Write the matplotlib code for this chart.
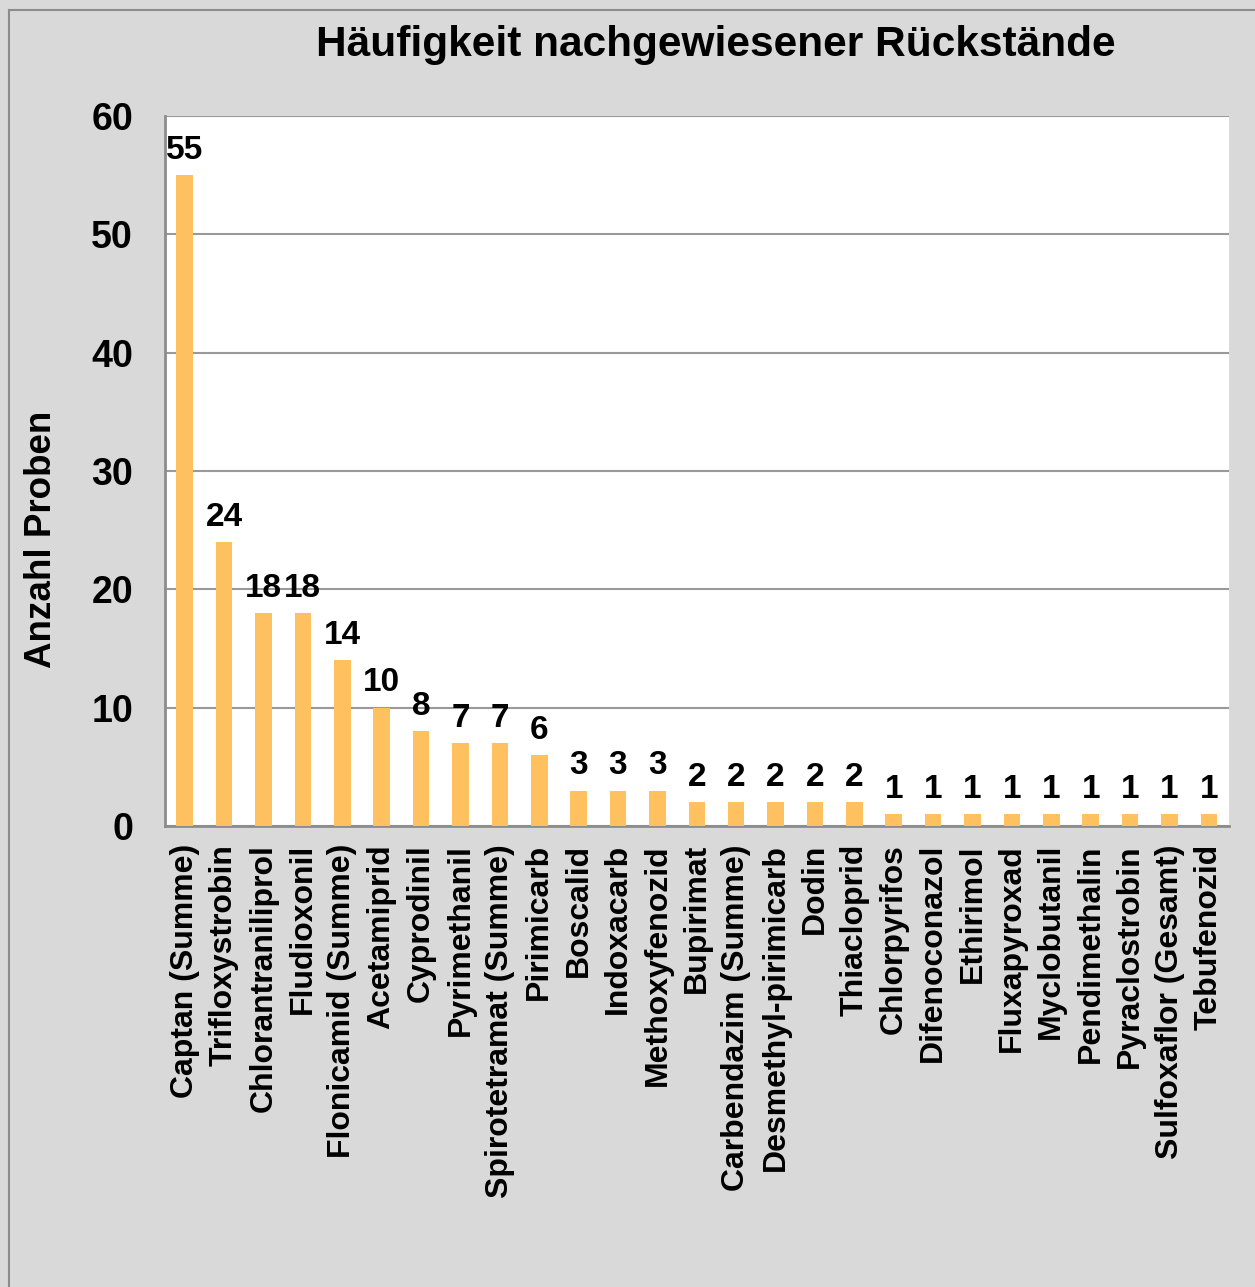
import matplotlib
matplotlib.use("Agg")
import matplotlib.pyplot as plt
from matplotlib.patches import Rectangle

plt.rcParams['font.family'] = ['Liberation Sans', 'DejaVu Sans']
plt.rcParams['font.weight'] = 'bold'

stoffe = ['Captan (Summe)', 'Trifloxystrobin', 'Chlorantraniliprol', 'Fludioxonil',
          'Flonicamid (Summe)', 'Acetamiprid', 'Cyprodinil', 'Pyrimethanil',
          'Spirotetramat (Summe)', 'Pirimicarb', 'Boscalid', 'Indoxacarb',
          'Methoxyfenozid', 'Bupirimat', 'Carbendazim (Summe)', 'Desmethyl-pirimicarb',
          'Dodin', 'Thiacloprid', 'Chlorpyrifos', 'Difenoconazol', 'Ethirimol',
          'Fluxapyroxad', 'Myclobutanil', 'Pendimethalin', 'Pyraclostrobin',
          'Sulfoxaflor (Gesamt)', 'Tebufenozid']
anzahl = [55, 24, 18, 18, 14, 10, 8, 7, 7, 6, 3, 3, 3, 2, 2, 2, 2, 2,
          1, 1, 1, 1, 1, 1, 1, 1, 1]
y_ticks = [0, 10, 20, 30, 40, 50, 60]

fig = plt.figure(figsize=(12.55, 12.87), dpi=100)
fig.patch.set_facecolor('#d9d9d9')
# outer chart frame (cropped at right/bottom in the original)
fig.patches.append(Rectangle((9 / 1255, -0.1), 1.2, 1 - 10 / 1287 + 0.1,
                             transform=fig.transFigure, fill=False,
                             edgecolor='#8c8c8c', linewidth=1.5))

ax = fig.add_axes([165 / 1255, 1 - 826 / 1287, (1229 - 165) / 1255, (826 - 116) / 1287])
ax.set_facecolor('white')

x = list(range(len(stoffe)))
bars = ax.bar(x, anzahl, width=0.42, color='#ffc05f', zorder=3)
ax.set_xlim(-0.5, len(stoffe) - 0.5 + 0.01)
ax.set_ylim(0, 60)
ax.set_yticks(y_ticks)
ax.set_yticklabels([str(v) for v in y_ticks], fontsize=27, fontweight='bold')
ax.tick_params(axis='y', length=0, pad=23)
ax.tick_params(axis='x', length=0, pad=13)
ax.set_xticks(x)
ax.set_xticklabels(stoffe, rotation=90, fontsize=23, fontweight='bold',
                   va='top', ha='center')
ax.yaxis.grid(True, color='#999999', linewidth=1.5, zorder=0)
ax.set_axisbelow(True)

for s in ['right', 'top']:
    ax.spines[s].set_visible(False)
for s in ['left', 'bottom']:
    ax.spines[s].set_color('#8c8c8c')
    ax.spines[s].set_linewidth(2)

for xi, v in zip(x, anzahl):
    ax.text(xi, v + 0.8, str(v), ha='center', va='bottom', fontsize=24, fontweight='bold')

ax.set_ylabel('Anzahl Proben', fontsize=26.5, fontweight='bold')
ax.yaxis.set_label_coords(-0.1, 0.404)
fig.text(716 / 1255, 1 - 45 / 1287, 'Häufigkeit nachgewiesener Rückstände',
         ha='center', va='center', fontsize=30.5, fontweight='bold')

fig.savefig('out.png', dpi=100, facecolor=fig.get_facecolor())
